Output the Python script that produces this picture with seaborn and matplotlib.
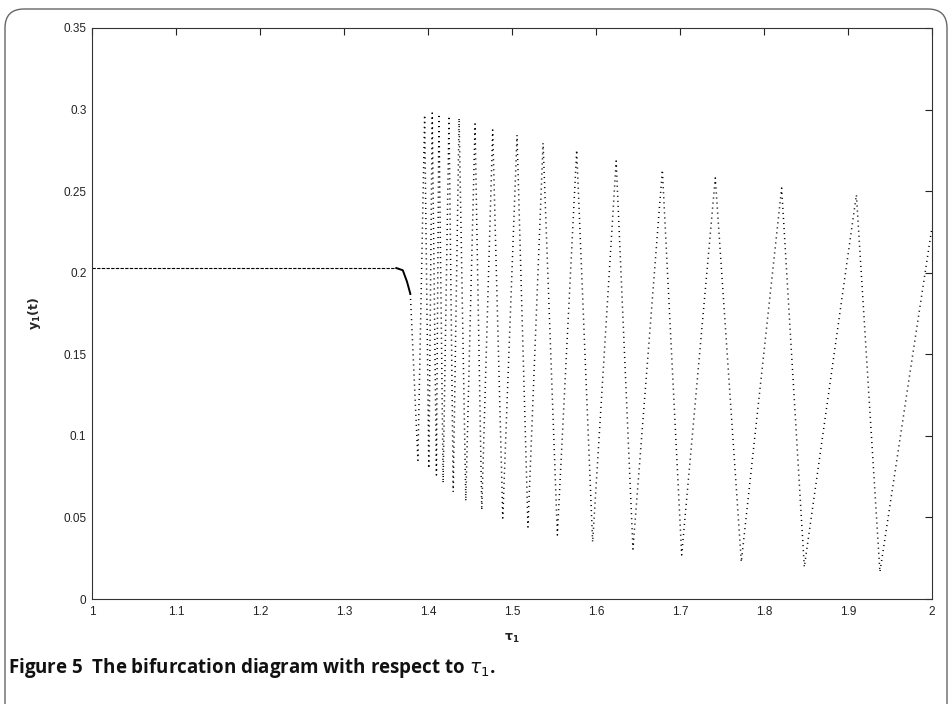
import numpy as np
import pandas as pd
import matplotlib
matplotlib.use("Agg")
import matplotlib.pyplot as plt
from matplotlib.patches import FancyBboxPatch
import seaborn as sns

# ---- data ----
eq_tau = [1.000, 1.367]
eq_y = [0.2029, 0.2029]

knee_tau = [1.362, 1.370, 1.375, 1.379]
knee_y = [0.2029, 0.2015, 0.1945, 0.1870]

osc_tau = [1.379, 1.388, 1.396, 1.401, 1.405, 1.410, 1.413, 1.418, 1.425, 1.430,
           1.437, 1.445, 1.456, 1.464, 1.477, 1.489, 1.506, 1.519, 1.537, 1.554,
           1.577, 1.596, 1.624, 1.644, 1.679, 1.702, 1.742, 1.773, 1.821, 1.848,
           1.910, 1.938, 2.000]
osc_y = [0.1870, 0.0850, 0.2967, 0.0800, 0.2979, 0.0760, 0.2973, 0.0711, 0.2961, 0.0656,
         0.2948, 0.0601, 0.2912, 0.0545, 0.2875, 0.0496, 0.2844, 0.0441, 0.2795, 0.0392,
         0.2752, 0.0349, 0.2685, 0.0306, 0.2630, 0.0270, 0.2581, 0.0227, 0.2519, 0.0196,
         0.2477, 0.0166, 0.2280]

xticks = [1, 1.1, 1.2, 1.3, 1.4, 1.5, 1.6, 1.7, 1.8, 1.9, 2]
xtick_labels = ["1", "1.1", "1.2", "1.3", "1.4", "1.5", "1.6", "1.7", "1.8", "1.9", "2"]
yticks = [0, 0.05, 0.1, 0.15, 0.2, 0.25, 0.3, 0.35]
ytick_labels = ["0", "0.05", "0.1", "0.15", "0.2", "0.25", "0.3", "0.35"]

sns.set_theme(style="white")
plt.rcParams["font.family"] = ["Liberation Sans", "DejaVu Sans"]

fig = plt.figure(figsize=(9.52, 7.04), dpi=100)
ax = fig.add_axes([92 / 952, 105 / 704, 840 / 952, 571 / 704])

eq_df = pd.DataFrame({"tau": eq_tau, "y": eq_y})
knee_df = pd.DataFrame({"tau": knee_tau, "y": knee_y})
osc_df = pd.DataFrame({"tau": osc_tau, "y": osc_y})

sns.lineplot(data=eq_df, x="tau", y="y", ax=ax, color="black", lw=0.8,
             linestyle=(0, (3, 1.2)), sort=False, estimator=None)
sns.lineplot(data=knee_df, x="tau", y="y", ax=ax, color="black", lw=1.4,
             sort=False, estimator=None)
sns.lineplot(data=osc_df, x="tau", y="y", ax=ax, color="black", lw=1.1,
             linestyle=(0, (0.7, 2.6)), sort=False, estimator=None)

ax.set_xlim(1, 2)
ax.set_ylim(0, 0.35)
ax.set_xticks(xticks)
ax.set_xticklabels(xtick_labels)
ax.set_yticks(yticks)
ax.set_yticklabels(ytick_labels)
ax.tick_params(direction="in", length=5, width=0.8, top=True, right=True,
               labelsize=8.5, colors="#222222", pad=4)
ax.tick_params(axis="x", pad=5)
for s in ax.spines.values():
    s.set_color("#333333")
    s.set_linewidth(0.8)

ax.set_xlabel(r"$\mathbf{\tau_1}$", fontsize=9)
ax.set_ylabel(r"$\mathbf{y_1(t)}$", fontsize=9)
ax.xaxis.set_label_coords(0.5, -0.058)
ax.yaxis.set_label_coords(-0.058, 0.5)

fig.text(8 / 952, 1 - 668 / 704, r"Figure 5  The bifurcation diagram with respect to $\tau_1$.",
         fontsize=13.5, fontweight="bold", family=["Open Sans", "DejaVu Sans"],
         va="center", ha="left", color="#111111")

box = FancyBboxPatch((5 / 952, -20 / 704), 942 / 952, 715 / 704,
                     boxstyle="round,pad=0,rounding_size=0.02",
                     transform=fig.transFigure, fill=False, ec="#666666", lw=1.0,
                     mutation_aspect=952 / 704)
fig.patches.append(box)

fig.savefig("out.png", dpi=100)
